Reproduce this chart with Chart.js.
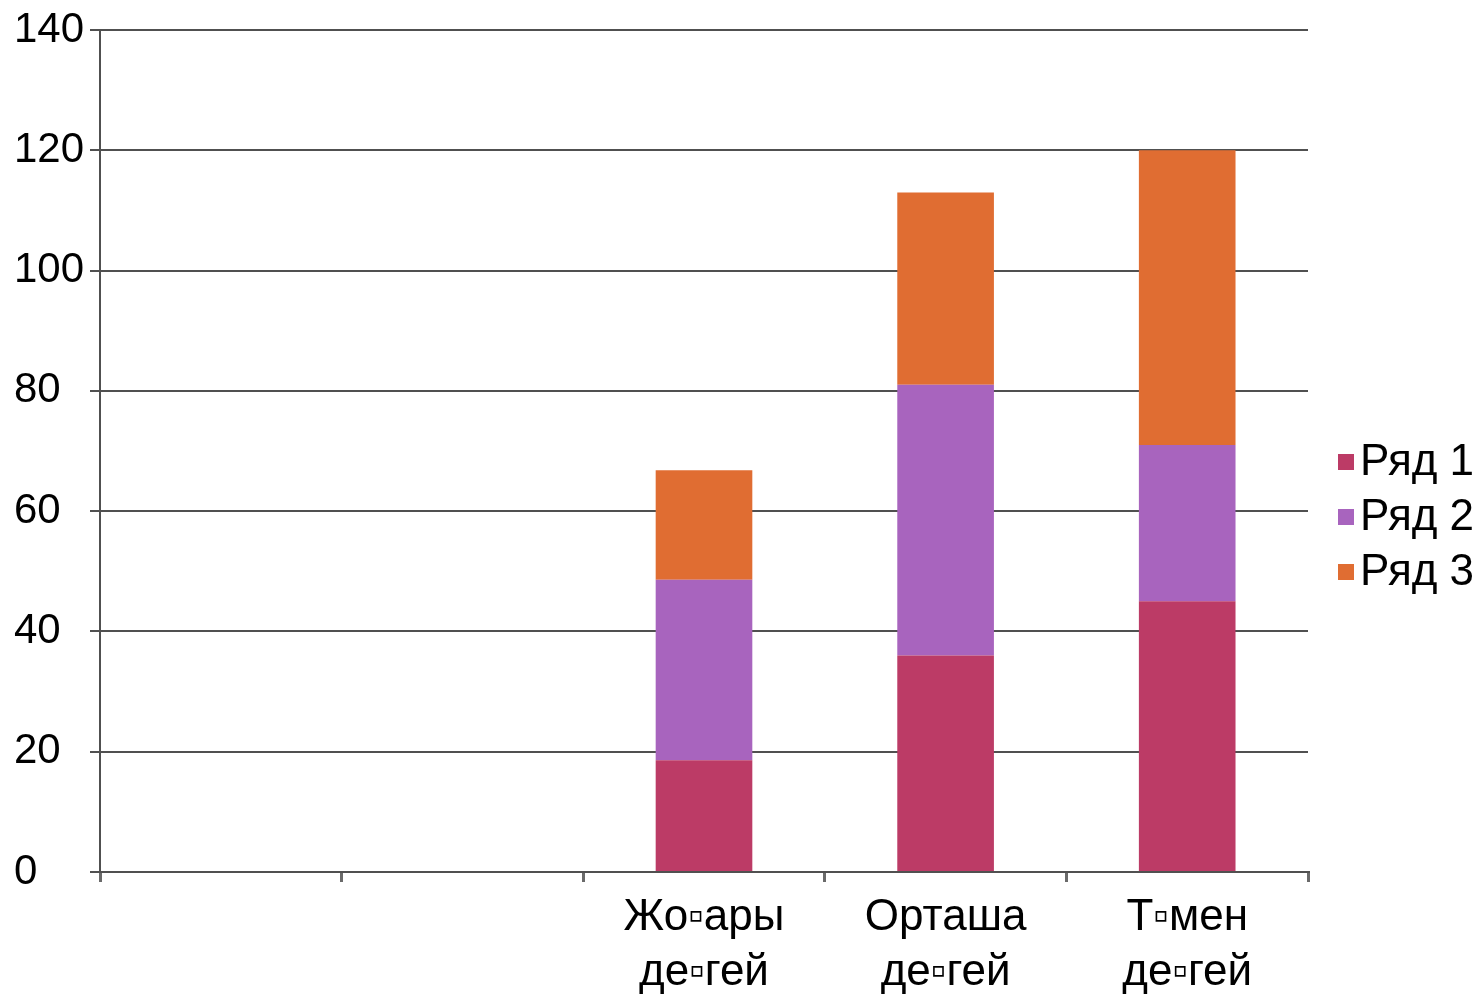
<!DOCTYPE html>
<html>
<head>
<meta charset="utf-8">
<script src="https://cdn.jsdelivr.net/npm/chart.js@4.4.1/dist/chart.umd.min.js"></script>
<style>
html,body{margin:0;padding:0;background:#fff;}
#wrap{width:1483px;height:996px;position:relative;}
</style>
</head>
<body>
<div id="wrap"><canvas id="c" width="1483" height="996"></canvas></div>
<script>
const categories = [["", ""], ["", ""], ["Жо▫ары", "де▫гей"], ["Орташа", "де▫гей"], ["Т▫мен", "де▫гей"]];
const seriesNames = ["Ряд 1", "Ряд 2", "Ряд 3"];
const series1 = [null, null, 18.6, 36, 45];
const series2 = [null, null, 30, 45, 26];
const series3 = [null, null, 18.2, 32, 49];
const colors = ["#BC3B66", "#A864BE", "#E06D32"];

const FONT = "'Liberation Sans', Arial, sans-serif";

const legendPlugin = {
  id: 'customLegend',
  afterDraw(chart) {
    const ctx = chart.ctx;
    const area = chart.chartArea;
    const ds = chart.data.datasets;
    const step = 55;
    const y0 = (area.top + area.bottom) / 2 + 11;
    ctx.save();
    ctx.font = "44px " + FONT;
    ctx.textBaseline = 'middle';
    ctx.textAlign = 'left';
    ds.forEach((d, i) => {
      const y = y0 + i * step;
      ctx.fillStyle = d.backgroundColor;
      ctx.fillRect(area.right + 30, y - 8, 16, 16);
      ctx.fillStyle = '#000';
      ctx.fillText(d.label, area.right + 52, y + 1);
    });
    ctx.restore();
  }
};

new Chart(document.getElementById('c'), {
  type: 'bar',
  data: {
    labels: categories,
    datasets: [series1, series2, series3].map((d, i) => ({
      label: seriesNames[i],
      data: d,
      backgroundColor: colors[i],
      borderWidth: 0,
      categoryPercentage: 1.0,
      barPercentage: 0.4
    }))
  },
  options: {
    responsive: false,
    animation: false,
    devicePixelRatio: 1,
    layout: { padding: { top: 30, right: 175, left: 14, bottom: 0 } },
    plugins: {
      legend: { display: false },
      tooltip: { enabled: false }
    },
    scales: {
      x: {
        stacked: true,
        grid: { drawOnChartArea: false, drawTicks: true, tickLength: 10, color: '#6a6a6a', lineWidth: 3, offset: true },
        border: { color: '#505050', width: 2 },
        ticks: { font: { family: FONT, size: 44, lineHeight: 1.25 }, color: '#000', maxRotation: 0, autoSkip: false, padding: 8 },
        afterFit: s => { s.height = 124; }
      },
      y: {
        stacked: true,
        min: 0, max: 140,
        grid: { color: '#505050', lineWidth: 2, tickLength: 10 },
        border: { color: '#505050', width: 2 },
        ticks: { stepSize: 20, font: { family: FONT, size: 42 }, color: '#000', crossAlign: 'far', padding: 4 },
        afterFit: s => { s.width = 86; }
      }
    }
  },
  plugins: [legendPlugin]
});
</script>
</body>
</html>
